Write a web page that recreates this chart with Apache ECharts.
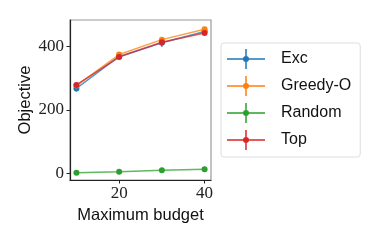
<!DOCTYPE html>
<html><head><meta charset="utf-8">
<script src="https://cdn.jsdelivr.net/npm/echarts@6/dist/echarts.min.js"></script>
<style>html,body{margin:0;padding:0;background:#fff}#c{width:377px;height:242px}</style>
</head><body><div id="c"></div>
<script>
var budgets = [10, 20, 30, 40];
var seriesNames = ['Exc', 'Greedy-O', 'Random', 'Top'];
var exc = [268, 369, 412, 448];
var greedyO = [277, 375, 422, 455];
var random = [2, 5, 10, 13];
var top_ = [279, 367, 414, 443];
var excErr = [10, 4, 13, 5];
var greedyErr = [3, 3, 3, 3];
var randomErr = [1, 1, 1, 1];
var topErr = [3, 3, 3, 3];
var xTicks = [20, 40];
var yTicks = [0, 200, 400];
var colors = ['#1f77b4', '#ff7f0e', '#2ca02c', '#d62728'];

var values = [exc, greedyO, random, top_];
var errs = [excErr, greedyErr, randomErr, topErr];

var icon = 'path://M0,9.25L38,9.25L38,10.75L0,10.75Z M18.25,0L19.75,0L19.75,20L18.25,20Z M16,10A3,3,0,1,1,22,10A3,3,0,1,1,16,10Z';

var series = [];
values.forEach(function (v, i) {
  series.push({
    name: seriesNames[i], type: 'line',
    data: budgets.map(function (b, j) { return [b, v[j]]; }),
    symbol: 'circle', symbolSize: 6,
    lineStyle: { width: 1.5, color: colors[i], opacity: 0.75 },
    itemStyle: { color: colors[i] },
    emphasis: { disabled: true }, z: 3 + i
  });
});
values.forEach(function (v, i) {
  series.push({
    type: 'custom', name: seriesNames[i] + ' err', z: 2,
    data: budgets.map(function (b, j) { return [b, v[j] - errs[i][j], v[j] + errs[i][j]]; }),
    renderItem: function (params, api) {
      var lo = api.coord([api.value(0), api.value(1)]);
      var hi = api.coord([api.value(0), api.value(2)]);
      return { type: 'line', shape: { x1: lo[0], y1: lo[1], x2: hi[0], y2: hi[1] },
        style: { stroke: colors[i], lineWidth: 1.5, opacity: 0.75 } };
    },
    encode: { x: 0, y: [1, 2] }
  });
});

var chart = echarts.init(document.getElementById('c'), null, { renderer: 'canvas' });
chart.setOption({
  animation: false,
  grid: { left: 70, right: 166, top: 20, bottom: 62, show: true, borderColor: '#999', borderWidth: 1.2, backgroundColor: 'transparent' },
  xAxis: {
    type: 'value', min: 8.5, max: 41.5,
    name: 'Maximum budget', nameLocation: 'middle', nameGap: 23,
    nameTextStyle: { fontFamily: 'Liberation Sans', fontSize: 16.5, color: '#111' },
    axisLine: { show: true, onZero: false, lineStyle: { color: '#222', width: 1.2 } },
    axisTick: { show: true, length: 3.5, customValues: xTicks, lineStyle: { color: '#222' } },
    axisLabel: { customValues: xTicks, fontFamily: 'Liberation Serif', fontSize: 17, color: '#222', margin: 5 },
    splitLine: { show: false }
  },
  yAxis: {
    type: 'value', min: -21, max: 484,
    name: 'Objective', nameLocation: 'middle', nameGap: 36,
    nameTextStyle: { fontFamily: 'Liberation Sans', fontSize: 16.5, color: '#111' },
    axisLine: { show: true, onZero: false, lineStyle: { color: '#222', width: 1.2 } },
    axisTick: { show: true, length: 3.5, customValues: yTicks, lineStyle: { color: '#222' } },
    axisLabel: { customValues: yTicks, fontFamily: 'Liberation Serif', fontSize: 17, color: '#222', margin: 6 },
    splitLine: { show: false }
  },
  legend: {
    data: seriesNames.map(function (n) { return { name: n, icon: icon }; }),
    orient: 'vertical', left: 221, top: 43,
    itemWidth: 38, itemHeight: 20, itemGap: 7,
    padding: [6, 9, 7, 6],
    borderColor: '#ddd', borderWidth: 1, borderRadius: 3,
    textStyle: { fontFamily: 'Liberation Sans', fontSize: 16, color: '#111', padding: [0, 0, 0, 11] },
    selectedMode: false
  },
  series: series
});
</script></body></html>
